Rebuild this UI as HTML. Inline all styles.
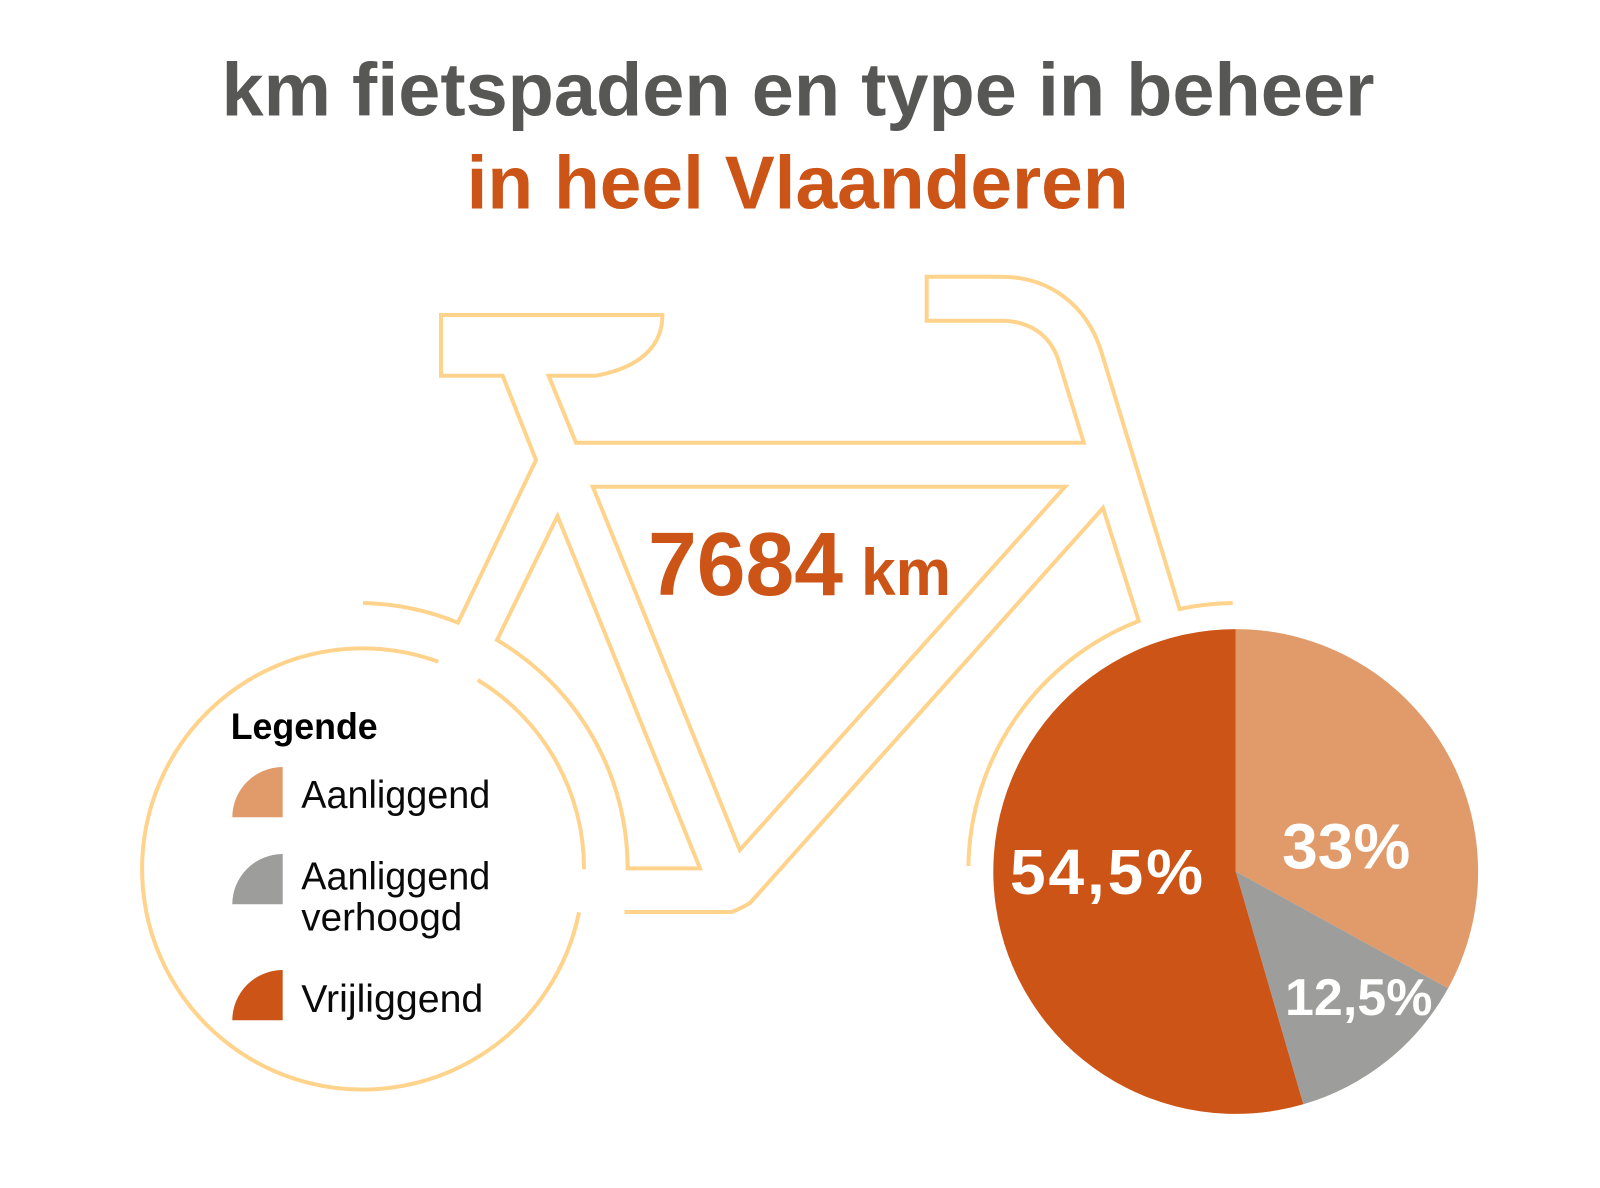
<!DOCTYPE html>
<html lang="nl">
<head>
<meta charset="utf-8">
<title>km fietspaden en type in beheer in heel Vlaanderen</title>
<style>
  html, body { margin: 0; padding: 0; background: #ffffff; }
  svg { display: block; font-family: "Liberation Sans", sans-serif; }
  .bike-line { fill: none; stroke: #ffd38b; stroke-width: 4; stroke-linejoin: miter; stroke-miterlimit: 10; }
  .title-text { font-size: 75px; font-weight: 700; }
  .legend-text { font-size: 39px; fill: #0a0a0a; }
  .total-number { font-size: 90px; font-weight: 700; fill: #cc5416; }
  .total-unit { font-size: 66px; font-weight: 700; fill: #cc5416; }
  .slice-0 { fill: #e19b6a; }
  .slice-1 { fill: #9d9d9b; }
  .slice-2 { fill: #cc5416; }
  .pie-label { fill: #ffffff; font-weight: 700; text-anchor: middle; }
  .pie-label-0 { font-size: 64px; transform: translate(-10px, 68.4px); }
  .pie-label-1 { font-size: 52px; transform: translate(35.5px, 34.2px); }
  .pie-label-2 { font-size: 64px; letter-spacing: 2.9px; transform: translate(10.9px, 2.6px); }
</style>
</head>
<body>
<svg id="chart" xmlns="http://www.w3.org/2000/svg" width="1600" height="1188" viewBox="0 0 1600 1188">
  <text class="title-text" x="221.5" y="115.7" fill="#575756" textLength="1153" lengthAdjust="spacingAndGlyphs">km fietspaden en type in beheer</text>
  <text class="title-text" x="466.6" y="208.3" fill="#cc5416" textLength="662" lengthAdjust="spacingAndGlyphs">in heel Vlaanderen</text>

  <g>
    <path class="bike-line" d="M363,603 A265,265 0 0 1 458,622.7 L536,460 L502.6,375.7 L441,375.7 L441,315 L662.4,315 C662.4,345 642,367 596,375.7 L548.6,375.7 L576,442.7 L1083.8,442.7 L1058.4,360 C1050,335 1030,320.7 1000.4,320.7 L926.7,320.7 L926.7,276.7 L1000.4,276.7 C1050,276.7 1086,305 1100.8,350 L1179.6,609 A265,265 0 0 1 1232.7,603"/>
    <path class="bike-line" d="M592.8,486.7 L1065,486.7 L739.8,850 Z"/>
    <path class="bike-line" d="M557.5,516 L700,868.4 L627.6,868.4 A264.7,264.7 0 0 0 497,640 Z"/>
    <path class="bike-line" d="M624.5,912 L731.6,912 Q742,908 750,903 L1103,508 L1138.8,621 A267,267 0 0 0 968.4,866"/>
    <path class="bike-line" d="M579,912.3 A220.6,220.6 0 1 1 438.3,661.7"/>
    <path class="bike-line" d="M477.7,680 A220.6,220.6 0 0 1 584,869.3"/>
  </g>

  <g>
    <text class="total-number" x="648" y="595" textLength="195" lengthAdjust="spacingAndGlyphs">7684</text>
    <text class="total-unit" x="861" y="595" textLength="90" lengthAdjust="spacingAndGlyphs">km</text>
  </g>

  <g>
    <text x="230.7" y="739" font-size="37" font-weight="700" fill="#000" textLength="147" lengthAdjust="spacingAndGlyphs">Legende</text>
    <path class="slice-0" d="M282.7,817.3 L232.3,817.3 A50.4,50.4 0 0 1 282.7,767 Z"/>
    <text class="legend-text" x="301.3" y="808.2" textLength="189" lengthAdjust="spacingAndGlyphs">Aanliggend</text>
    <path class="slice-1" d="M282.7,904.3 L232.3,904.3 A50.4,50.4 0 0 1 282.7,854 Z"/>
    <text class="legend-text" x="301.3" y="889.5" textLength="189" lengthAdjust="spacingAndGlyphs">Aanliggend</text>
    <text class="legend-text" x="301.3" y="930.5" textLength="161" lengthAdjust="spacingAndGlyphs">verhoogd</text>
    <path class="slice-2" d="M282.7,1020.3 L232.3,1020.3 A50.4,50.4 0 0 1 282.7,970 Z"/>
    <text class="legend-text" x="301.3" y="1012.2" textLength="182" lengthAdjust="spacingAndGlyphs">Vrijliggend</text>
  </g>

  <g id="pie"></g>
</svg>

<script>
const categories = ["Aanliggend", "Aanliggend verhoogd", "Vrijliggend"];
const shares = [33, 12.5, 54.5];
const printedValues = ["33%", "12,5%", "54,5%"];

const SVG_NS = "http://www.w3.org/2000/svg";
const pieCentreX = 1235.7;
const pieCentreY = 871.5;
const pieRadius = 242.4;
const labelRadius = 140;

function totalShare() {
  return shares.reduce(function (sum, v) { return sum + v; }, 0);
}
function angleOf(cumulative) {
  return (cumulative / totalShare()) * 2 * Math.PI;
}
function polar(angle, radius) {
  return [pieCentreX + radius * Math.sin(angle), pieCentreY - radius * Math.cos(angle)];
}
function slug(text) {
  return text.toLowerCase().replace(/[^a-z0-9]+/g, "-");
}

const pieGroup = document.getElementById("pie");
const labelLayer = [];
let running = 0;
shares.forEach(function (value, i) {
  const a0 = angleOf(running);
  const a1 = angleOf(running + value);
  running += value;
  const p0 = polar(a0, pieRadius);
  const p1 = polar(a1, pieRadius);
  const large = a1 - a0 > Math.PI ? 1 : 0;

  const slice = document.createElementNS(SVG_NS, "path");
  slice.setAttribute("class", "slice-" + i);
  slice.setAttribute("d",
    "M" + pieCentreX + "," + pieCentreY +
    " L" + p0[0] + "," + p0[1] +
    " A" + pieRadius + "," + pieRadius + " 0 " + large + " 1 " + p1[0] + "," + p1[1] + " Z");
  
  
  pieGroup.appendChild(slice);

  const mid = polar((a0 + a1) / 2, labelRadius);
  const label = document.createElementNS(SVG_NS, "text");
  label.setAttribute("class", "pie-label pie-label-" + i);
  label.setAttribute("x", mid[0]);
  label.setAttribute("y", mid[1]);
  label.textContent = printedValues[i];
  
  
  labelLayer.push(label);
});
labelLayer.forEach(function (label) { pieGroup.appendChild(label); });
</script>
</body>
</html>
